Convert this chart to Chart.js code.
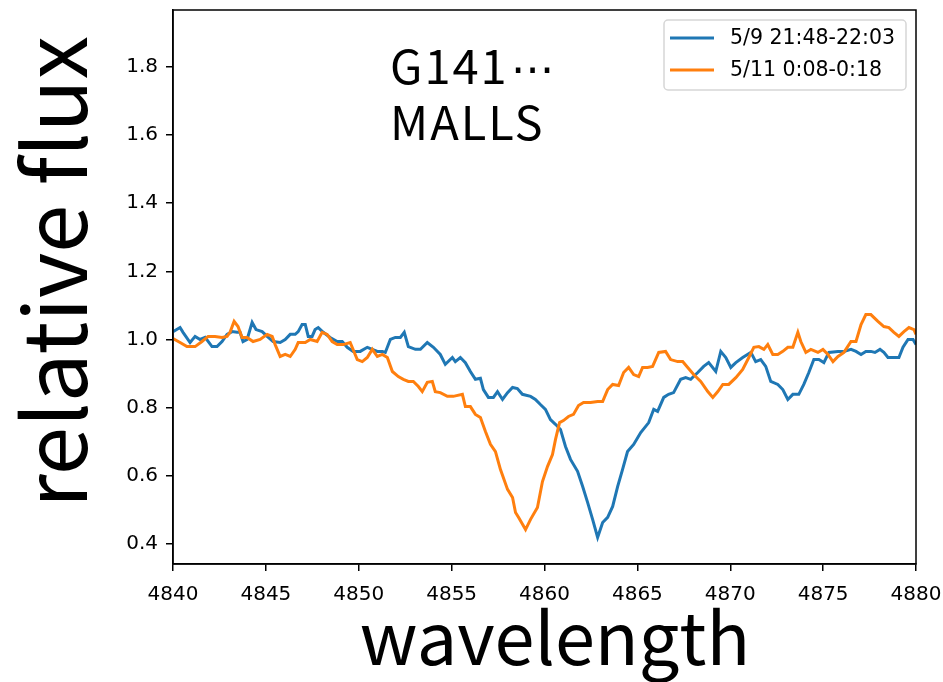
<!DOCTYPE html>
<html lang="ja">
<head>
<meta charset="utf-8">
<script src="https://cdn.jsdelivr.net/npm/chart.js@4.4.1/dist/chart.umd.min.js"></script>
<style>
  html, body { margin: 0; padding: 0; background: #fff; }
</style>
</head>
<body>
<canvas id="spec-chart" width="943" height="682"></canvas>
<script>
// series (wavelength in A, relative flux)
const wlBlue = [4840.00, 4840.38, 4840.54, 4840.92, 4841.19, 4841.46, 4841.73, 4842.10, 4842.37, 4842.64, 4842.91, 4843.18, 4843.45, 4843.61, 4843.77, 4843.99, 4844.26, 4844.47, 4844.80, 4845.07, 4845.39, 4845.77, 4846.04, 4846.31, 4846.58, 4846.74, 4846.95, 4847.12, 4847.28, 4847.49, 4847.65, 4847.82, 4848.09, 4848.46, 4848.84, 4849.11, 4849.38, 4849.70, 4850.08, 4850.46, 4850.73, 4851.00, 4851.27, 4851.43, 4851.70, 4851.97, 4852.24, 4852.45, 4852.67, 4853.05, 4853.32, 4853.69, 4854.02, 4854.39, 4854.66, 4855.04, 4855.20, 4855.47, 4855.74, 4856.01, 4856.28, 4856.55, 4856.71, 4856.98, 4857.25, 4857.47, 4857.74, 4858.01, 4858.28, 4858.54, 4858.81, 4859.25, 4859.51, 4859.78, 4860.05, 4860.32, 4860.59, 4860.86, 4861.13, 4861.40, 4861.78, 4862.05, 4862.32, 4862.59, 4862.86, 4863.13, 4863.40, 4863.67, 4863.94, 4864.20, 4864.47, 4864.80, 4865.18, 4865.61, 4865.88, 4866.09, 4866.42, 4866.68, 4866.95, 4867.33, 4867.60, 4867.87, 4868.25, 4868.57, 4868.84, 4869.22, 4869.49, 4869.76, 4870.03, 4870.30, 4870.67, 4871.11, 4871.37, 4871.64, 4871.91, 4872.18, 4872.56, 4872.83, 4873.10, 4873.37, 4873.69, 4873.96, 4874.23, 4874.50, 4874.77, 4875.04, 4875.31, 4875.80, 4876.12, 4876.50, 4876.77, 4877.04, 4877.30, 4877.57, 4877.79, 4878.06, 4878.27, 4878.49, 4878.81, 4879.08, 4879.30, 4879.57, 4879.84, 4880.00]
const fluxBlue = [1.023, 1.035, 1.021, 0.991, 1.009, 1.000, 1.006, 0.979, 0.979, 0.994, 1.015, 1.023, 1.021, 1.021, 0.994, 1.000, 1.050, 1.029, 1.023, 1.009, 0.994, 0.991, 1.000, 1.015, 1.015, 1.023, 1.044, 1.044, 1.009, 1.009, 1.029, 1.035, 1.021, 1.006, 0.994, 0.994, 0.977, 0.965, 0.965, 0.977, 0.971, 0.965, 0.965, 0.962, 1.000, 1.006, 1.006, 1.021, 0.979, 0.971, 0.971, 0.991, 0.977, 0.956, 0.927, 0.947, 0.935, 0.947, 0.932, 0.906, 0.883, 0.886, 0.853, 0.830, 0.830, 0.847, 0.824, 0.844, 0.859, 0.856, 0.839, 0.833, 0.824, 0.809, 0.795, 0.765, 0.751, 0.736, 0.686, 0.648, 0.613, 0.569, 0.522, 0.472, 0.419, 0.463, 0.478, 0.510, 0.569, 0.618, 0.671, 0.692, 0.727, 0.756, 0.795, 0.789, 0.830, 0.839, 0.844, 0.883, 0.888, 0.883, 0.903, 0.921, 0.932, 0.906, 0.965, 0.947, 0.918, 0.932, 0.947, 0.962, 0.935, 0.941, 0.921, 0.877, 0.868, 0.853, 0.824, 0.839, 0.839, 0.868, 0.903, 0.941, 0.941, 0.932, 0.962, 0.965, 0.965, 0.971, 0.965, 0.956, 0.965, 0.965, 0.962, 0.971, 0.962, 0.947, 0.947, 0.947, 0.977, 1.000, 1.000, 0.985]

const wlOrange = [4840.00, 4840.38, 4840.75, 4841.19, 4841.56, 4841.89, 4842.26, 4842.64, 4842.91, 4843.07, 4843.29, 4843.50, 4843.72, 4843.99, 4844.31, 4844.69, 4845.07, 4845.34, 4845.50, 4845.77, 4846.04, 4846.31, 4846.58, 4846.74, 4847.12, 4847.39, 4847.76, 4848.03, 4848.30, 4848.57, 4848.84, 4849.16, 4849.54, 4849.92, 4850.19, 4850.46, 4850.73, 4851.00, 4851.27, 4851.54, 4851.81, 4852.13, 4852.40, 4852.67, 4852.94, 4853.21, 4853.42, 4853.69, 4853.96, 4854.12, 4854.39, 4854.77, 4855.09, 4855.58, 4855.74, 4856.01, 4856.28, 4856.55, 4856.82, 4857.09, 4857.36, 4857.63, 4858.01, 4858.28, 4858.44, 4858.60, 4858.98, 4859.25, 4859.62, 4859.89, 4860.16, 4860.43, 4860.59, 4860.81, 4861.02, 4861.29, 4861.56, 4861.83, 4862.10, 4862.48, 4862.86, 4863.13, 4863.40, 4863.67, 4863.99, 4864.26, 4864.53, 4864.80, 4865.07, 4865.28, 4865.55, 4865.82, 4866.15, 4866.52, 4866.79, 4867.17, 4867.44, 4867.71, 4868.03, 4868.41, 4868.79, 4869.06, 4869.33, 4869.60, 4869.92, 4870.30, 4870.67, 4871.00, 4871.27, 4871.54, 4871.81, 4872.02, 4872.29, 4872.56, 4872.83, 4873.10, 4873.37, 4873.64, 4873.80, 4874.07, 4874.34, 4874.72, 4874.99, 4875.26, 4875.53, 4875.80, 4876.12, 4876.50, 4876.77, 4877.04, 4877.30, 4877.57, 4877.95, 4878.27, 4878.54, 4878.81, 4879.08, 4879.35, 4879.62, 4879.89, 4880.00]
const fluxOrange = [1.003, 0.991, 0.979, 0.979, 0.994, 1.009, 1.009, 1.006, 1.009, 1.021, 1.053, 1.038, 1.006, 1.006, 0.994, 1.000, 1.015, 1.009, 0.985, 0.950, 0.956, 0.950, 0.971, 0.991, 0.991, 1.000, 0.994, 1.021, 1.015, 0.994, 0.985, 0.985, 0.991, 0.941, 0.935, 0.947, 0.971, 0.950, 0.956, 0.947, 0.906, 0.891, 0.883, 0.877, 0.877, 0.862, 0.847, 0.874, 0.877, 0.847, 0.844, 0.833, 0.833, 0.839, 0.803, 0.803, 0.780, 0.771, 0.730, 0.692, 0.671, 0.618, 0.560, 0.536, 0.492, 0.478, 0.442, 0.472, 0.507, 0.583, 0.627, 0.662, 0.706, 0.756, 0.762, 0.774, 0.780, 0.806, 0.815, 0.815, 0.818, 0.818, 0.853, 0.868, 0.865, 0.903, 0.918, 0.897, 0.891, 0.918, 0.918, 0.921, 0.962, 0.965, 0.941, 0.935, 0.935, 0.918, 0.897, 0.877, 0.847, 0.830, 0.847, 0.868, 0.868, 0.888, 0.912, 0.947, 0.977, 0.979, 0.971, 0.985, 0.956, 0.956, 0.965, 0.977, 0.977, 1.021, 0.994, 0.962, 0.971, 0.962, 0.971, 0.956, 0.935, 0.950, 0.962, 0.994, 0.994, 1.044, 1.073, 1.073, 1.053, 1.038, 1.035, 1.021, 1.009, 1.023, 1.035, 1.029, 1.015]

const seriesLabels = ['5/9 21:48-22:03', '5/11 0:08-0:18']
const seriesColors = ['#1f77b4', '#ff7f0e']
const xTicks = [4840, 4845, 4850, 4855, 4860, 4865, 4870, 4875, 4880]
const yTicks = [0.4, 0.6, 0.8, 1.0, 1.2, 1.4, 1.6, 1.8]
const noteName = 'G141'
const noteDots = '\u22EF'
const noteLine2 = 'MALLS'
const xTitle = 'wavelength'
const yTitle = 'relative flux'

const toPoints = (xs, ys) => xs.map((x, i) => ({x: x, y: ys[i]}))

// frame, legend, text note and big axis titles
const decor = {
  id: 'decor',
  afterDraw(chart) {
    const ctx = chart.ctx
    const a = chart.chartArea
    ctx.save()
    ctx.strokeStyle = '#000'
    ctx.lineWidth = 1.5
    ctx.strokeRect(a.left, a.top, a.right - a.left, a.bottom - a.top)

    // legend box, upper right
    ctx.fillStyle = 'rgba(255,255,255,0.8)'
    ctx.strokeStyle = '#d6d6d6'
    ctx.lineWidth = 1.5
    ctx.beginPath()
    ctx.roundRect(664, 20, 242, 70, 4)
    ctx.fill()
    ctx.stroke()
    ctx.font = '20.5px "DejaVu Sans"'
    ctx.textBaseline = 'middle'
    ctx.textAlign = 'left'
    chart.data.datasets.forEach((ds, i) => {
      const y = 38 + i * 32
      ctx.strokeStyle = ds.borderColor
      ctx.lineWidth = 3
      ctx.beginPath()
      ctx.moveTo(670, y)
      ctx.lineTo(714, y)
      ctx.stroke()
      ctx.fillStyle = '#000'
      ctx.fillText(ds.label, 730, y + 1)
    })

    // note in the upper middle: "G141⋯" / "MALLS"
    ctx.fillStyle = '#000'
    ctx.textBaseline = 'alphabetic'
    ctx.font = '47px "Noto Sans CJK JP"'
    ctx.letterSpacing = '2px'
    ctx.fillText(noteName, 390, 84)
    const w = ctx.measureText(noteName).width
    ctx.fillText(noteLine2, 390, 140)
    ctx.letterSpacing = '0px'
    ctx.font = '44px "DejaVu Sans"'
    ctx.fillText(noteDots, 390 + w + 2, 84)

    ctx.font = '72px "Noto Sans CJK JP"'
    ctx.textAlign = 'center'
    ctx.fillText(xTitle, 555, 665)
    ctx.font = '87px "Noto Sans CJK JP"'
    ctx.translate(87, 272)
    ctx.rotate(-Math.PI / 2)
    ctx.fillText(yTitle, 0, 0)
    ctx.restore()
  }
}

var ctx = document.getElementById('spec-chart').getContext('2d')
var chart = new Chart(ctx, {
  type: 'line',
  data: {
    datasets: [
      {
        label: seriesLabels[0],
        data: toPoints(wlBlue, fluxBlue),
        borderColor: seriesColors[0],
        borderWidth: 3,
        pointRadius: 0,
        tension: 0,
        order: 1
      },
      {
        label: seriesLabels[1],
        data: toPoints(wlOrange, fluxOrange),
        borderColor: seriesColors[1],
        borderWidth: 3,
        pointRadius: 0,
        tension: 0,
        order: 0
      }
    ]
  },
  options: {
    responsive: false,
    animation: false,
    devicePixelRatio: 1,
    layout: { padding: { left: 0, top: 10, right: 27, bottom: 0 } },
    plugins: {
      legend: { display: false },
      tooltip: { enabled: false }
    },
    scales: {
      x: {
        type: 'linear',
        min: 4840,
        max: 4880,
        afterFit: s => { s.height = 118; s.paddingLeft = 0; s.paddingRight = 0 },
        afterBuildTicks: s => { s.ticks = xTicks.map(v => ({value: v})) },
        grid: { drawOnChartArea: false, drawTicks: true, tickLength: 7, color: '#000', lineWidth: 1.5 },
        border: { display: true, color: '#000', width: 1.5 },
        ticks: {
          padding: 12,
          maxRotation: 0,
          color: '#000',
          font: { family: 'DejaVu Sans', size: 20 },
          callback: v => String(v)
        }
      },
      y: {
        type: 'linear',
        min: 0.341,
        max: 1.967,
        afterFit: s => { s.width = 173; s.paddingTop = 0; s.paddingBottom = 0 },
        afterBuildTicks: s => { s.ticks = yTicks.map(v => ({value: v})) },
        grid: { drawOnChartArea: false, drawTicks: true, tickLength: 7, color: '#000', lineWidth: 1.5 },
        border: { display: true, color: '#000', width: 1.5 },
        ticks: {
          padding: 8,
          color: '#000',
          font: { family: 'DejaVu Sans', size: 20 },
          callback: v => v.toFixed(1)
        }
      }
    }
  },
  plugins: [decor]
})
</script>
</body>
</html>
